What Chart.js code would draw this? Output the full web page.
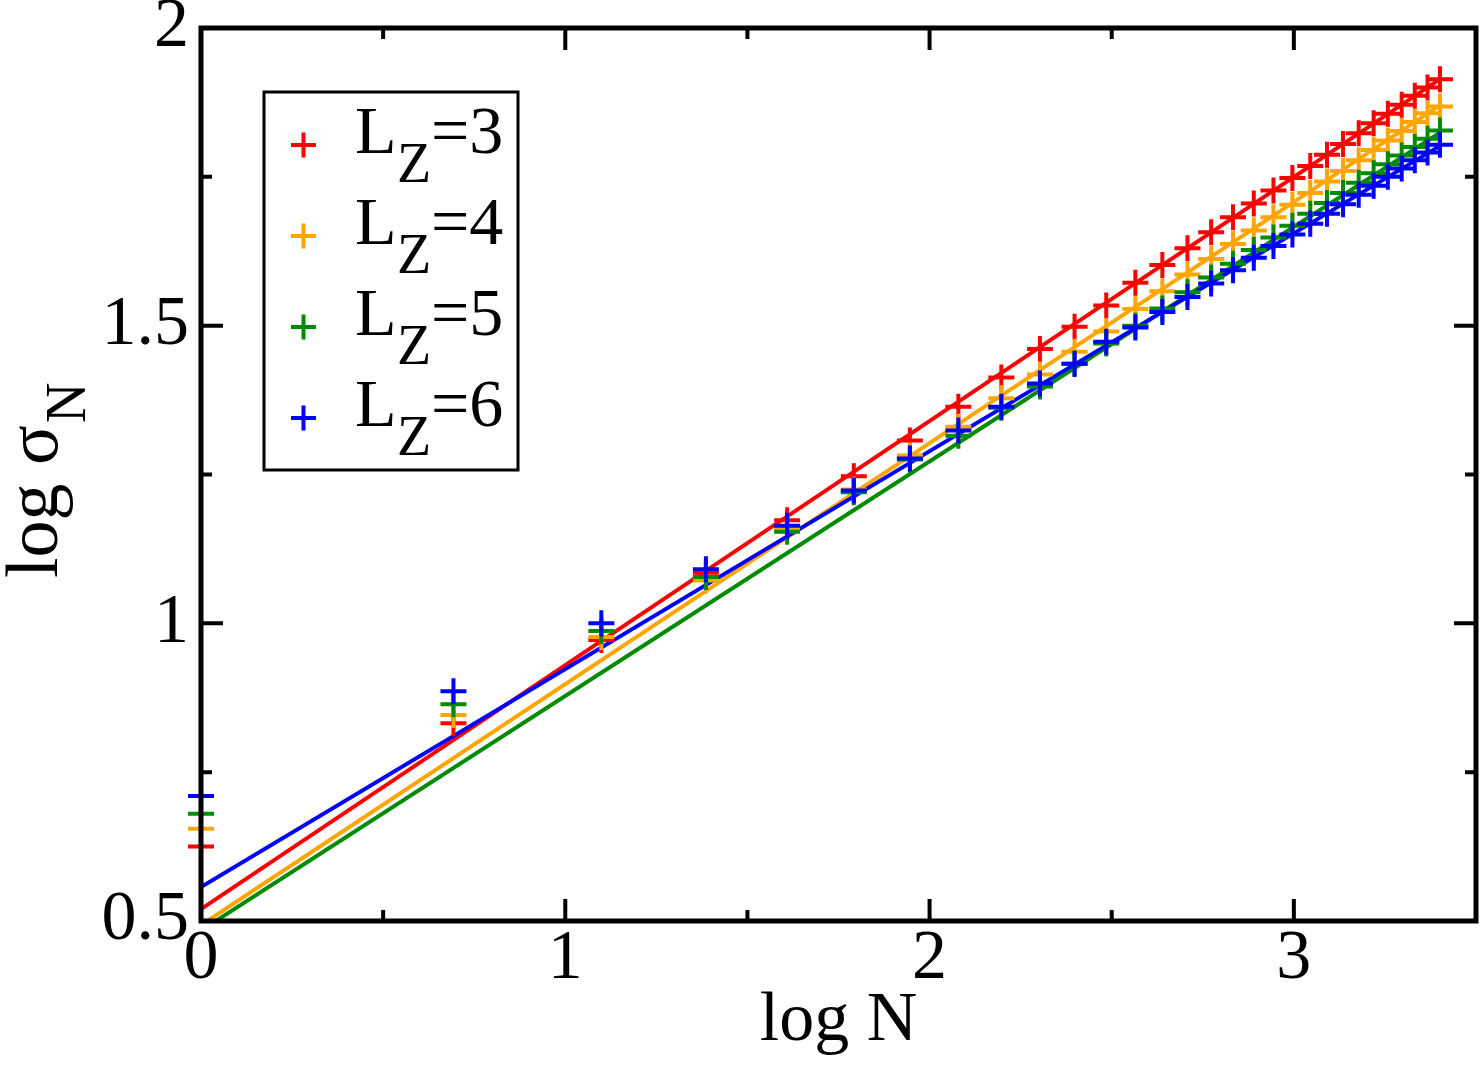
<!DOCTYPE html>
<html>
<head>
<meta charset="utf-8">
<script src="https://cdn.jsdelivr.net/npm/chart.js@4/dist/chart.umd.min.js"></script>
<style>
  body { margin: 0; background: #fff; }
  canvas { display: block; }
</style>
</head>
<body>
<canvas id="grafico" width="1484" height="1067"></canvas>
<script>
// log N for N = 1..30
const logN = [0, 0.693, 1.099, 1.386, 1.609, 1.792, 1.946, 2.079, 2.197, 2.303,
  2.398, 2.485, 2.565, 2.639, 2.708, 2.773, 2.833, 2.890, 2.944, 2.996,
  3.045, 3.091, 3.135, 3.178, 3.219, 3.258, 3.296, 3.332, 3.367, 3.401];

const lz3 = [0.625, 0.832, 0.972, 1.085, 1.173, 1.247, 1.307, 1.364, 1.413, 1.461,
  1.498, 1.534, 1.572, 1.602, 1.630, 1.657, 1.682, 1.705, 1.727, 1.748,
  1.768, 1.787, 1.805, 1.823, 1.840, 1.856, 1.871, 1.886, 1.900, 1.914];
const lz4 = [0.655, 0.846, 0.977, 1.072, 1.160, 1.225, 1.282, 1.330, 1.378, 1.418,
  1.456, 1.490, 1.528, 1.558, 1.586, 1.612, 1.637, 1.660, 1.682, 1.703,
  1.723, 1.742, 1.760, 1.778, 1.795, 1.811, 1.827, 1.842, 1.857, 1.868];
const lz5 = [0.680, 0.864, 0.987, 1.078, 1.154, 1.220, 1.275, 1.315, 1.362, 1.398,
  1.436, 1.470, 1.500, 1.529, 1.556, 1.581, 1.604, 1.627, 1.648, 1.668,
  1.688, 1.706, 1.723, 1.740, 1.756, 1.771, 1.786, 1.800, 1.814, 1.828];
const lz6 = [0.710, 0.886, 1.000, 1.091, 1.164, 1.223, 1.277, 1.324, 1.364, 1.403,
  1.436, 1.473, 1.497, 1.523, 1.548, 1.571, 1.593, 1.614, 1.634, 1.653,
  1.671, 1.688, 1.704, 1.720, 1.735, 1.750, 1.764, 1.778, 1.791, 1.804];

// fitted straight lines, ends at x = 0 and x = 3.401
const fitX = [0, 3.401];
const fit3 = [0.520, 1.914];
const fit4 = [0.493, 1.870];
const fit5 = [0.484, 1.824];
const fit6 = [0.557, 1.802];

const etiquetas = ["3", "4", "5", "6"];
const colores = ["#ff0000", "#ffa500", "#008b00", "#0000ff"];

const xTicks = [0, 1, 2, 3];
const xMinor = [0.5, 1.5, 2.5];
const yTicks = [0.5, 1, 1.5, 2];
const yMinor = [0.75, 1.25, 1.75];

const serif = "'Liberation Serif', 'DejaVu Serif', serif";

const puntos = (ys) => ys.map((y, i) => ({ x: logN[i], y: y }));
const recta = (ys) => ys.map((y, i) => ({ x: fitX[i], y: y }));

const series = [lz3, lz4, lz5, lz6];
const rectas = [fit3, fit4, fit5, fit6];

const datasets = [];
// points: blue on top, red at bottom
for (let i = 0; i < 4; i++) {
  datasets.push({
    label: "Lz=" + etiquetas[i],
    data: puntos(series[i]),
    showLine: false,
    pointStyle: "cross",
    pointRadius: 13,
    pointBorderWidth: 4,
    borderColor: colores[i],
    backgroundColor: colores[i],
    order: 3 - i,
    clip: false
  });
}
for (let i = 0; i < 4; i++) {
  datasets.push({
    label: "fit " + etiquetas[i],
    data: recta(rectas[i]),
    showLine: true,
    pointRadius: 0,
    borderWidth: 4,
    borderColor: colores[i],
    backgroundColor: colores[i],
    order: 7 - i,
    clip: 0
  });
}

// frame with inward ticks, y title with subscript, legend box
const marco = {
  id: "marco",
  afterDraw(chart) {
    const ctx = chart.ctx;
    const a = chart.chartArea;
    const xs = chart.scales.x;
    const ys = chart.scales.y;
    ctx.save();
    ctx.strokeStyle = "#000";
    ctx.lineWidth = 5;
    ctx.strokeRect(a.left, a.top, a.right - a.left, a.bottom - a.top);

    ctx.lineWidth = 4;
    const tx = (v, len) => {
      const p = xs.getPixelForValue(v);
      ctx.beginPath();
      ctx.moveTo(p, a.bottom); ctx.lineTo(p, a.bottom - len);
      ctx.moveTo(p, a.top); ctx.lineTo(p, a.top + len);
      ctx.stroke();
    };
    const ty = (v, len) => {
      const p = ys.getPixelForValue(v);
      ctx.beginPath();
      ctx.moveTo(a.left, p); ctx.lineTo(a.left + len, p);
      ctx.moveTo(a.right, p); ctx.lineTo(a.right - len, p);
      ctx.stroke();
    };
    xTicks.forEach(v => tx(v, 22));
    xMinor.forEach(v => tx(v, 11));
    yTicks.forEach(v => ty(v, 22));
    yMinor.forEach(v => ty(v, 11));

    // y axis title
    ctx.fillStyle = "#000";
    ctx.translate(57, 578);
    ctx.rotate(-Math.PI / 2);
    ctx.textAlign = "left";
    ctx.textBaseline = "alphabetic";
    ctx.font = "74px " + serif;
    ctx.fillText("log σ", 0, 0);
    const w = ctx.measureText("log σ").width;
    ctx.font = "56px " + serif;
    ctx.fillText("N", w + 2, 28);
    ctx.restore();

    // legend
    ctx.save();
    ctx.fillStyle = "#fff";
    ctx.fillRect(264, 92, 254, 378);
    ctx.strokeStyle = "#000";
    ctx.lineWidth = 3;
    ctx.strokeRect(264, 92, 254, 378);
    for (let i = 0; i < 4; i++) {
      const cy = 145 + i * 91;
      ctx.strokeStyle = colores[i];
      ctx.lineWidth = 4;
      ctx.beginPath();
      ctx.moveTo(291, cy); ctx.lineTo(316, cy);
      ctx.moveTo(303.5, cy - 12.5); ctx.lineTo(303.5, cy + 12.5);
      ctx.stroke();
      ctx.fillStyle = "#000";
      ctx.textAlign = "left";
      ctx.textBaseline = "alphabetic";
      const base = 153 + i * 91;
      ctx.font = "68px " + serif;
      ctx.fillText("L", 355, base);
      ctx.font = "56px " + serif;
      ctx.fillText("Z", 397, base + 29);
      ctx.font = "68px " + serif;
      ctx.fillText("=" + etiquetas[i], 431, base);
    }
    ctx.restore();
  }
};

new Chart(document.getElementById("grafico"), {
  type: "scatter",
  data: { datasets: datasets },
  options: {
    responsive: false,
    animation: false,
    events: [],
    layout: { autoPadding: false, padding: { top: 28, right: 8, left: 0, bottom: 0 } },
    plugins: { legend: { display: false }, tooltip: { enabled: false } },
    scales: {
      x: {
        type: "linear",
        min: 0,
        max: 3.5,
        afterFit: (s) => { s.height = 146; s.paddingLeft = 0; s.paddingRight = 0; },
        afterBuildTicks: (s) => { s.ticks = xTicks.map(v => ({ value: v })); },
        grid: { display: false, drawTicks: false },
        border: { display: false },
        ticks: {
          color: "#000",
          padding: 4,
          font: { family: serif, size: 70, lineHeight: 1 },
          callback: (v) => String(v),
          maxRotation: 0
        },
        title: {
          display: true,
          text: "log N",
          color: "#000",
          font: { family: serif, size: 70, lineHeight: 1 },
          padding: { top: 0, bottom: 10 }
        }
      },
      y: {
        type: "linear",
        min: 0.5,
        max: 2,
        afterFit: (s) => { s.width = 201; s.paddingTop = 0; s.paddingBottom = 0; },
        afterBuildTicks: (s) => { s.ticks = yTicks.map(v => ({ value: v })); },
        grid: { display: false, drawTicks: false },
        border: { display: false },
        ticks: {
          color: "#000",
          padding: 12,
          font: { family: serif, size: 70, lineHeight: 1 },
          callback: (v) => String(v)
        }
      }
    }
  },
  plugins: [marco]
});
</script>
</body>
</html>
